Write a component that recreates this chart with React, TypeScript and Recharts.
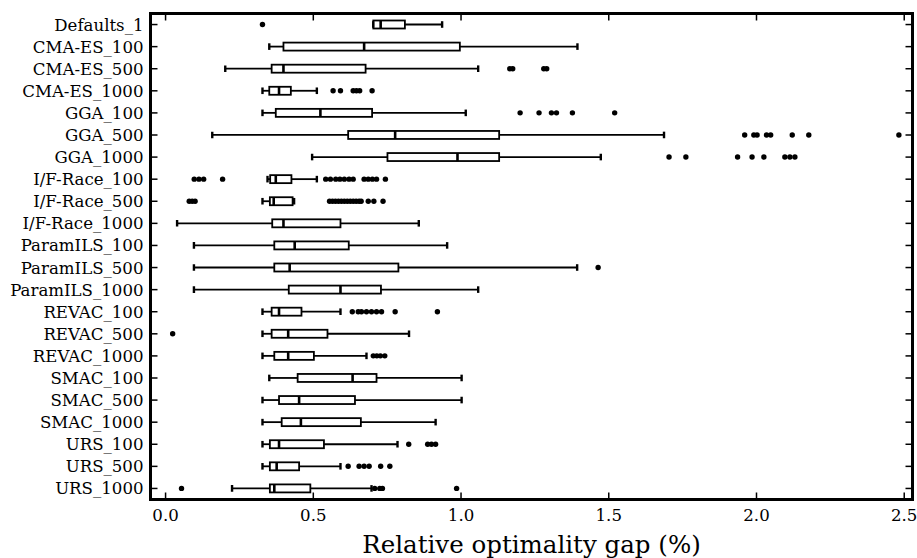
import React from 'react';
import { ComposedChart, Bar, XAxis, YAxis, Label } from 'recharts';

const categories = [
  'Defaults_1', 'CMA-ES_100', 'CMA-ES_500', 'CMA-ES_1000', 'GGA_100', 'GGA_500', 'GGA_1000',
  'I/F-Race_100', 'I/F-Race_500', 'I/F-Race_1000', 'ParamILS_100', 'ParamILS_500', 'ParamILS_1000',
  'REVAC_100', 'REVAC_500', 'REVAC_1000', 'SMAC_100', 'SMAC_500', 'SMAC_1000',
  'URS_100', 'URS_500', 'URS_1000',
];

const whiskerLow = [0.703, 0.351, 0.202, 0.328, 0.328, 0.158, 0.496, 0.345, 0.328, 0.039, 0.096, 0.096, 0.096, 0.328, 0.328, 0.328, 0.351, 0.328, 0.328, 0.328, 0.328, 0.225];
const q1 = [0.703, 0.399, 0.359, 0.351, 0.373, 0.618, 0.751, 0.354, 0.353, 0.361, 0.368, 0.368, 0.417, 0.359, 0.359, 0.368, 0.447, 0.384, 0.393, 0.353, 0.353, 0.353];
const median = [0.728, 0.672, 0.399, 0.384, 0.524, 0.777, 0.988, 0.373, 0.366, 0.399, 0.437, 0.42, 0.592, 0.384, 0.415, 0.415, 0.633, 0.452, 0.458, 0.384, 0.376, 0.368];
const q3 = [0.81, 0.996, 0.677, 0.424, 0.699, 1.129, 1.129, 0.426, 0.43, 0.592, 0.62, 0.788, 0.729, 0.46, 0.548, 0.502, 0.714, 0.641, 0.661, 0.536, 0.452, 0.49];
const whiskerHigh = [0.936, 1.394, 1.058, 0.512, 1.016, 1.687, 1.473, 0.512, 0.435, 0.857, 0.953, 1.393, 1.058, 0.592, 0.824, 0.68, 1.002, 1.002, 0.914, 0.785, 0.592, 0.697];
const outliers: number[][] = [
  [0.328],
  [],
  [1.165, 1.175, 1.28, 1.29],
  [0.567, 0.592, 0.635, 0.646, 0.657, 0.699],
  [1.2, 1.264, 1.306, 1.323, 1.377, 1.52],
  [1.96, 1.991, 2.002, 2.034, 2.048, 2.121, 2.177, 2.482],
  [1.704, 1.761, 1.936, 1.985, 2.025, 2.096, 2.113, 2.13],
  [0.097, 0.113, 0.129, 0.193, 0.542, 0.558, 0.576, 0.59, 0.605, 0.621, 0.635, 0.672, 0.686, 0.7, 0.714, 0.744],
  [0.08, 0.09, 0.1, 0.555, 0.565, 0.575, 0.585, 0.595, 0.605, 0.615, 0.625, 0.635, 0.645, 0.655, 0.662, 0.686, 0.705, 0.736],
  [],
  [],
  [1.464],
  [],
  [0.632, 0.652, 0.663, 0.68, 0.697, 0.714, 0.731, 0.777, 0.92],
  [0.024],
  [0.703, 0.715, 0.727, 0.742],
  [],
  [],
  [],
  [0.823, 0.887, 0.9, 0.914],
  [0.618, 0.655, 0.672, 0.689, 0.728, 0.759],
  [0.054, 0.708, 0.725, 0.734, 0.985],
];
const xTicks = [0, 0.5, 1, 1.5, 2, 2.5];

const FONT = 'DejaVu Serif';

// range bar spans all points of a row; the shape maps values through it
const data = categories.map((name, i) => {
  const all = [whiskerLow[i], whiskerHigh[i], ...outliers[i]];
  return { name, idx: i, range: [Math.min(...all), Math.max(...all)] };
});

const BoxShape = (props: any) => {
  const { x, y, width, height, payload } = props;
  const i = payload.idx;
  const [lo, hi] = payload.range;
  const sx = (v: number) => x + ((v - lo) / (hi - lo)) * width;
  const cy = y + height / 2;
  const cap = 3.3;
  return (
    <g>
      <line x1={sx(whiskerLow[i])} x2={sx(q1[i])} y1={cy} y2={cy} stroke="#000" strokeWidth={1.8} />
      <line x1={sx(q3[i])} x2={sx(whiskerHigh[i])} y1={cy} y2={cy} stroke="#000" strokeWidth={1.8} />
      <line x1={sx(whiskerLow[i])} x2={sx(whiskerLow[i])} y1={cy - cap} y2={cy + cap} stroke="#000" strokeWidth={2.4} />
      <line x1={sx(whiskerHigh[i])} x2={sx(whiskerHigh[i])} y1={cy - cap} y2={cy + cap} stroke="#000" strokeWidth={2.4} />
      <rect x={sx(q1[i])} y={y} width={sx(q3[i]) - sx(q1[i])} height={height} fill="none" stroke="#000" strokeWidth={1.8} />
      <line x1={sx(median[i])} x2={sx(median[i])} y1={y} y2={y + height} stroke="#000" strokeWidth={2.6} />
      {outliers[i].map((v, k) => (
        <circle key={k} cx={sx(v)} cy={cy} r={2.7} fill="#000" />
      ))}
    </g>
  );
};

const LeftTick = (props: any) => {
  const { x, y, payload } = props;
  return (
    <g>
      <line x1={x} x2={x + 7} y1={y} y2={y} stroke="#000" strokeWidth={1.5} />
      <text x={x - 7} y={y + 6} textAnchor="end" fontFamily={FONT} fontSize={16.6} fill="#000">
        {payload.value}
      </text>
    </g>
  );
};

const RightTick = (props: any) => {
  const { x, y } = props;
  return <line x1={x - 7} x2={x} y1={y} y2={y} stroke="#000" strokeWidth={1.5} />;
};

const BottomTick = (props: any) => {
  const { x, y, payload } = props;
  return (
    <g>
      <line x1={x} x2={x} y1={y} y2={y - 7} stroke="#000" strokeWidth={1.5} />
      <text x={x} y={y + 21} textAnchor="middle" fontFamily={FONT} fontSize={16.6} fill="#000">
        {payload.value.toFixed(1)}
      </text>
    </g>
  );
};

const TopTick = (props: any) => {
  const { x, y } = props;
  return <line x1={x} x2={x} y1={y} y2={y + 7} stroke="#000" strokeWidth={1.5} />;
};

const frame = { stroke: '#000', strokeWidth: 3, strokeLinecap: 'square' as const };

export default function App() {
  return (
    <div style={{ position: 'absolute', left: 0, top: 0, background: '#fff' }}>
      <ComposedChart
        width={917}
        height={558}
        data={data}
        layout="vertical"
        margin={{ top: 12.5, right: 3.5, bottom: 0, left: 0 }}
      >
        <XAxis
          xAxisId="b"
          type="number"
          domain={[-0.051, 2.528]}
          ticks={xTicks}
          allowDataOverflow
          height={58.5}
          axisLine={frame}
          tickLine={false}
          tickSize={0}
          tickMargin={0}
          tick={<BottomTick />}
          interval={0}
        >
          <Label
            value="Relative optimality gap (%)"
            position="insideBottom"
            offset={5}
            style={{ fontFamily: FONT, fontSize: 24.5, fill: '#000' }}
          />
        </XAxis>
        <XAxis
          xAxisId="t"
          orientation="top"
          type="number"
          domain={[-0.051, 2.528]}
          ticks={xTicks}
          allowDataOverflow
          height={1}
          axisLine={frame}
          tickLine={false}
          tickSize={0}
          tickMargin={0}
          tick={<TopTick />}
          interval={0}
        />
        <YAxis
          yAxisId="l"
          type="category"
          dataKey="name"
          width={150.5}
          axisLine={frame}
          tickLine={false}
          tickSize={0}
          tickMargin={0}
          tick={<LeftTick />}
          interval={0}
        />
        <YAxis
          yAxisId="r"
          orientation="right"
          type="category"
          dataKey="name"
          width={1}
          axisLine={frame}
          tickLine={false}
          tickSize={0}
          tickMargin={0}
          tick={<RightTick />}
          interval={0}
        />
        <Bar
          xAxisId="b"
          yAxisId="l"
          dataKey="range"
          barSize={8}
          shape={<BoxShape />}
          isAnimationActive={false}
        />
        {/* invisible series so the top and right frame axes get drawn */}
        <Bar
          xAxisId="t"
          yAxisId="r"
          dataKey="range"
          barSize={8}
          shape={() => null}
          legendType="none"
          isAnimationActive={false}
        />
      </ComposedChart>
    </div>
  );
}
